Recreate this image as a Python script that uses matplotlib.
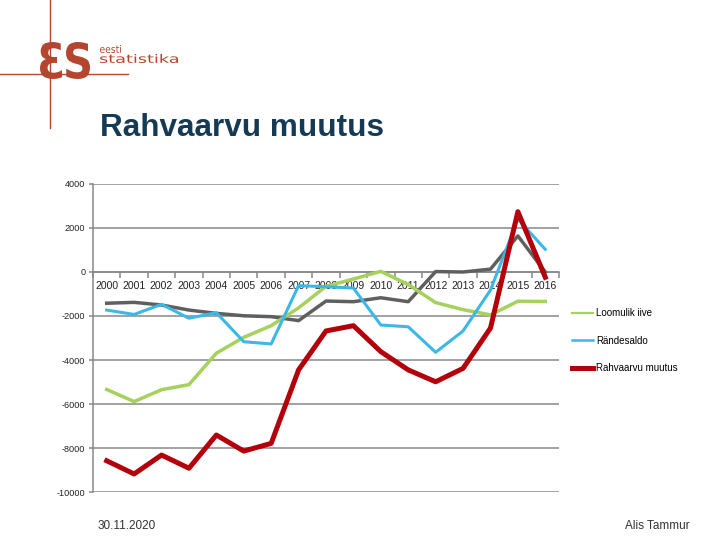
import numpy as np
import matplotlib
matplotlib.use("Agg")
import matplotlib.pyplot as plt
from matplotlib.textpath import TextPath
from matplotlib.patches import PathPatch
from matplotlib.font_manager import FontProperties
from matplotlib.transforms import Affine2D, IdentityTransform
from matplotlib.lines import Line2D

plt.rcParams['font.family'] = ['Liberation Sans', 'DejaVu Sans']

years = [str(y) for y in range(2000, 2017)]
loomulik_iive = [-5340, -5890, -5350, -5120, -3690, -2970, -2440, -1630,
                 -650, -320, 30, -570, -1390, -1710, -1950, -1330, -1340]
randesaldo = [-1730, -1930, -1470, -2100, -1850, -3170, -3270, -620,
              -670, -730, -2410, -2490, -3650, -2680, -820, 2400, 1030]
rahvaarvu_muutus = [-8580, -9180, -8320, -8920, -7410, -8140, -7790, -4450,
                    -2680, -2440, -3620, -4450, -4990, -4380, -2550, 2740, -240]
grey_series = [-1420, -1380, -1500, -1730, -1880, -1990, -2030, -2210,
               -1320, -1350, -1170, -1350, 20, 0, 130, 1640, 0]

W, H = 720, 540
fig = plt.figure(figsize=(7.2, 5.4), dpi=100)
fig.patch.set_facecolor('white')

logo_c = '#b4452f'


def fit_text(s, x0, y0, x1, y1, color, weight='normal'):
    # box given in image pixels, y measured from the top
    tp = TextPath((0, 0), s, size=100, prop=FontProperties(family='DejaVu Sans', weight=weight))
    ext = tp.get_extents()
    sx = (x1 - x0) / ext.width
    sy = (y1 - y0) / ext.height
    tr = Affine2D().translate(-ext.x0, -ext.y0).scale(sx, sy).translate(x0, H - y1)
    fig.patches.append(PathPatch(tp, transform=tr + IdentityTransform(),
                                 facecolor=color, edgecolor='none'))


# logo
fig.add_artist(Line2D([50 / W, 50 / W], [1, 1 - 128 / H], color=logo_c, lw=1.0))
fig.add_artist(Line2D([0, 128 / W], [1 - 74 / H, 1 - 74 / H], color=logo_c, lw=1.0))
fit_text('Ɛ', 40, 42, 62, 79, logo_c, weight='bold')
fit_text('S', 66, 42, 90, 79, logo_c, weight='bold')
fit_text('eesti', 100, 45, 121, 53, logo_c)
fit_text('statistika', 100, 54, 178, 63, logo_c)

fig.text(100 / W, 1 - 136 / H, 'Rahvaarvu muutus', fontsize=22.7, fontweight='bold',
         color='#143a56', va='baseline', ha='left')

ax = fig.add_axes([93 / W, (H - 492) / H, 466 / W, 308 / H])
x = np.arange(len(years))

ax.plot(x, grey_series, color='#5f5f5f', lw=2.5, zorder=3)
ax.plot(x, loomulik_iive, color='#a5d15c', lw=2.5, zorder=3, label='Loomulik iive')
ax.plot(x, randesaldo, color='#3cb8e6', lw=2.2, zorder=3, label='Rändesaldo')
ax.plot(x, rahvaarvu_muutus, color='#b3000a', lw=3.6, zorder=3, label='Rahvaarvu muutus')

ax.set_xlim(-0.5, len(years) - 0.5)
ax.set_ylim(-10000, 4000)
ax.set_yticks(np.arange(-10000, 4001, 2000))
ax.set_yticklabels([str(v) for v in range(-10000, 4001, 2000)], fontsize=6.6, color='#222222')
ax.yaxis.grid(True, color='#888888', lw=1.1)
ax.set_axisbelow(True)

for s in ['top', 'right']:
    ax.spines[s].set_visible(False)
ax.spines['left'].set_color('#888888')
ax.spines['left'].set_linewidth(1.1)
ax.spines['bottom'].set_position(('data', 0))
ax.spines['bottom'].set_color('#888888')
ax.spines['bottom'].set_linewidth(1.1)

ax.set_xticks(x)
ax.set_xticklabels(years, fontsize=7.5, color='#222222')
ax.set_xticks(np.arange(-0.5, len(years), 1), minor=True)
ax.tick_params(axis='x', which='major', length=0, pad=6.5)
ax.tick_params(axis='x', which='minor', length=4, color='#888888', width=1.1, direction='out')
ax.tick_params(axis='y', length=3, color='#888888', width=1.1, pad=2.5)

handles, labels = ax.get_legend_handles_labels()
leg = fig.legend(handles, labels, loc='upper left', bbox_to_anchor=(572 / W, 1 - 308 / H),
                 frameon=False, fontsize=7, handlelength=2.2, handletextpad=0.3,
                 labelspacing=1.8, borderpad=0, borderaxespad=0)
for ln, w in zip(leg.get_lines(), [1.6, 1.8, 3.6]):
    ln.set_linewidth(w)

fig.text(98 / W, 1 - 526 / H, '30.11.2020', fontsize=8.5, color='#333333', va='center', ha='left')
fig.text(690 / W, 1 - 526 / H, 'Alis Tammur', fontsize=8.5, color='#333333', va='center', ha='right')

fig.savefig('out.png', dpi=100)
